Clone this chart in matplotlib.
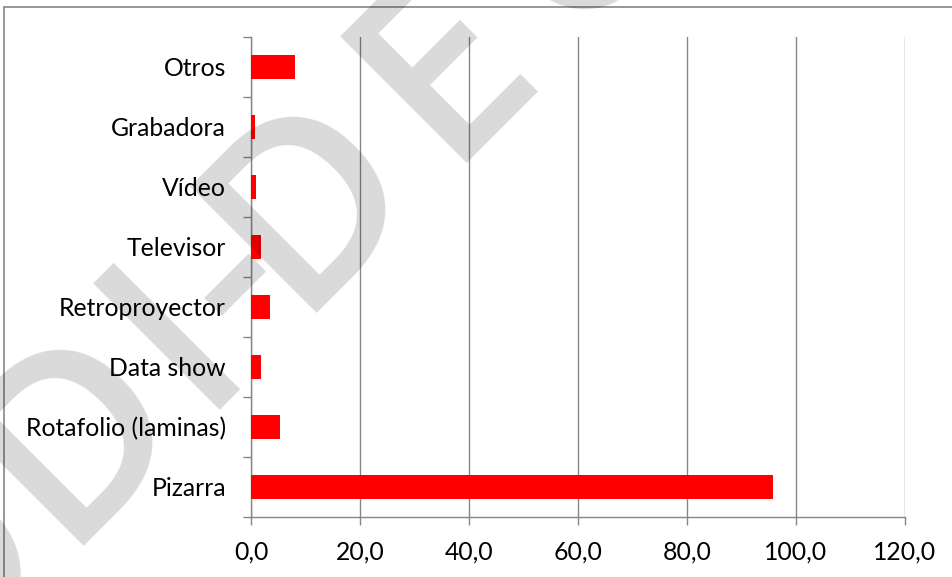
import numpy as np
import matplotlib
matplotlib.use("Agg")
import matplotlib.pyplot as plt
from matplotlib.patches import Rectangle

# data (bottom to top, as drawn)
categorias = ["Pizarra", "Rotafolio (laminas)", "Data show", "Retroproyector",
              "Televisor", "Vídeo", "Grabadora", "Otros"]
porcentajes = [95.7, 5.3, 1.8, 3.5, 1.8, 1.0, 0.7, 8.1]
x_ticks = [0, 20, 40, 60, 80, 100, 120]

W, H = 953, 577
DPI = 100
grey = "#868686"

plt.rcParams["font.family"] = ["Lato", "DejaVu Sans"]

fig = plt.figure(figsize=(W / DPI, H / DPI), dpi=DPI)
ax = fig.add_axes([251 / W, (H - 517) / H, (905 - 251) / W, (517 - 37) / H])

y = np.arange(len(categorias))
ax.barh(y, porcentajes, height=0.4, color="#ff0000", zorder=3)

ax.set_xlim(0, 120)
ax.set_ylim(-0.5, len(categorias) - 0.5)
ax.set_xticks(x_ticks)
ax.set_xticklabels([f"{v:.1f}".replace(".", ",") for v in x_ticks])
ax.grid(axis="x", color=grey, linewidth=1.0, zorder=0)
ax.set_axisbelow(True)

# category boundaries carry the tick marks, labels sit at the centres
ax.set_yticks(np.arange(len(categorias) + 1) - 0.5)
ax.set_yticklabels([])
ax.set_yticks(y, minor=True)
ax.set_yticklabels(categorias, minor=True)
ax.tick_params(axis="y", which="major", length=5.8, width=1.0, color=grey)
ax.tick_params(axis="y", which="minor", length=0, pad=18, labelsize=17.8)
ax.tick_params(axis="x", length=5.8, width=1.0, color=grey, pad=11, labelsize=17.8)

for side in ("top", "right"):
    ax.spines[side].set_visible(False)
for side in ("left", "bottom"):
    ax.spines[side].set_color(grey)
    ax.spines[side].set_linewidth(1.0)

# outer chart frame (runs off the right and bottom of the picture)
fig.patches.append(Rectangle((4 / W, -0.1), 1.2, (H - 7) / H + 0.1,
                             transform=fig.transFigure, fill=False,
                             edgecolor=grey, linewidth=1.2, zorder=5))

# watermark, letters laid along a 45 degree baseline
# (a = distance along the baseline, b = baseline offset, both in pixels)
base_b = 429
for ch, a in [("O", -445), ("D", -252), ("I", -113), ("-", -32), ("D", 78),
              ("E", 268), ("C", 452)]:
    px = (a + base_b) / np.sqrt(2)
    py = (base_b - a) / np.sqrt(2)
    fig.text(px / W, 1 - py / H, ch, transform=fig.transFigure,
             fontsize=180, family="Open Sans", fontweight="semibold",
             rotation=45, rotation_mode="anchor", ha="center", va="baseline",
             color="black", alpha=0.15, zorder=10)

fig.savefig("out.png", dpi=DPI)
